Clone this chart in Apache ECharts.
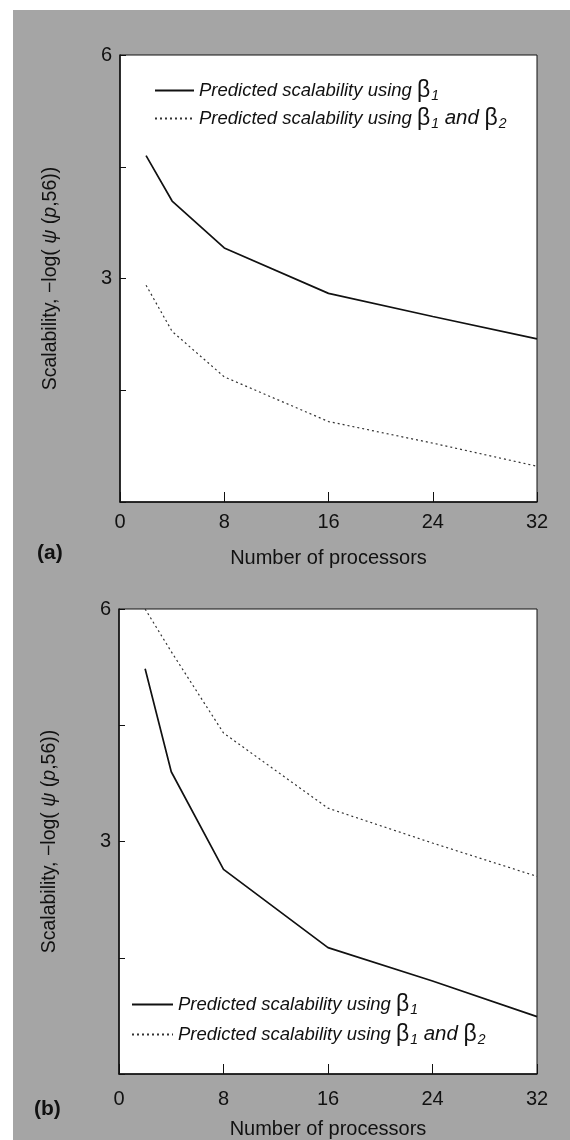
<!DOCTYPE html>
<html>
<head>
<meta charset="utf-8">
<script src="https://cdn.jsdelivr.net/npm/echarts@6/dist/echarts.min.js"></script>
<style>
html,body{margin:0;padding:0;background:#fff;}
#c{width:570px;height:1140px;}
</style>
</head>
<body>
<div id="c"></div>
<script>
// ---- data ----
var processors = [2, 4, 8, 16, 24, 32];
var aBeta1 = [4.65, 4.04, 3.41, 2.80, 2.49, 2.19];
var aBeta12 = [2.91, 2.29, 1.68, 1.08, 0.79, 0.48];
var bBeta1 = [5.23, 3.90, 2.64, 1.63, 1.20, 0.74];
var bBeta12 = [6.00, 5.45, 4.40, 3.43, 2.98, 2.55];
var xTicks = [0, 8, 16, 24, 32];
var yLabelsShown = [3, 6];
var seriesNames = ['Predicted scalability using β1', 'Predicted scalability using β1 and β2'];

function pairs(xs, ys) { return xs.map(function (x, i) { return [x, ys[i]]; }); }

var FONT = '"Liberation Sans Narrow", "Liberation Sans", Arial, sans-serif';
var INK = '#111';

var legendRich = {
  t: { fontFamily: FONT, fontStyle: 'italic', fontSize: 18.5, color: INK, lineHeight: 28 },
  a: { fontFamily: FONT, fontStyle: 'italic', fontSize: 20.5, color: INK, lineHeight: 28 },
  b: { fontFamily: FONT, fontSize: 23, color: INK, lineHeight: 28 },
  s: { fontFamily: FONT, fontStyle: 'italic', fontSize: 14, color: INK, lineHeight: 28, padding: [11, 0, 0, 1] }
};
function legendFmt(name) {
  if (name === seriesNames[0]) return '{t|Predicted scalability using }{b|β}{s|1}';
  return '{t|Predicted scalability using }{b|β}{s|1}{a| and }{b|β}{s|2}';
}

var yName = '{n|Scalability, −log( }{i|ψ}{n| (}{i|p}{n|,56))}';
var yNameRich = {
  n: { fontFamily: FONT, fontSize: 19.5, color: INK },
  i: { fontFamily: FONT, fontSize: 19.5, fontStyle: 'italic', color: INK }
};

function xAxis(idx, labelMargin, nameGap) {
  return {
    gridIndex: idx, type: 'value', min: 0, max: 32, interval: 8,
    axisLine: { show: true, lineStyle: { color: INK, width: 1.5 } },
    axisTick: { show: true, inside: true, length: 10, lineStyle: { color: INK, width: 1 } },
    axisLabel: { fontFamily: FONT, fontSize: 20, color: INK, margin: labelMargin,
      formatter: function (v) { return xTicks.indexOf(v) >= 0 ? String(v) : ''; } },
    splitLine: { show: false },
    name: 'Number of processors', nameLocation: 'middle', nameGap: nameGap,
    nameTextStyle: { fontFamily: FONT, fontSize: 20, color: INK }
  };
}
function yAxis(idx) {
  return {
    gridIndex: idx, type: 'value', min: 0, max: 6, interval: 1.5,
    axisLine: { show: true, lineStyle: { color: INK, width: 1.5 } },
    axisTick: { show: true, inside: true, length: 6, lineStyle: { color: INK, width: 1 } },
    axisLabel: { fontFamily: FONT, fontSize: 20, color: INK, margin: 8,
      formatter: function (v) { return yLabelsShown.indexOf(v) >= 0 ? String(v) : ''; } },
    splitLine: { show: false },
    name: yName, nameLocation: 'middle', nameGap: 59,
    nameTextStyle: { rich: yNameRich }
  };
}
function line(name, xi, data, dotted) {
  return {
    name: name, type: 'line', xAxisIndex: xi, yAxisIndex: xi,
    data: data, symbol: 'none', showSymbol: false, animation: false, z: 5,
    lineStyle: dotted ? { color: '#333', width: 1.2, type: [2, 3] } : { color: INK, width: 1.7, type: 'solid' }
  };
}

var chart = echarts.init(document.getElementById('c'), null, { renderer: 'canvas' });
chart.setOption({
  animation: false,
  backgroundColor: '#ffffff',
  graphic: [
    { type: 'rect', z: -10, silent: true, shape: { x: 13, y: 10, width: 557, height: 1130 }, style: { fill: '#a5a5a5' } },
    { type: 'text', z: 10, left: 37, top: 543, style: { text: '(a)', font: 'bold 21px "Liberation Sans", Arial, sans-serif', fill: INK } },
    { type: 'text', z: 10, left: 34, top: 1099, style: { text: '(b)', font: 'bold 21px "Liberation Sans", Arial, sans-serif', fill: INK } }
  ],
  grid: [
    { left: 120, top: 55, width: 417, height: 447, show: true, backgroundColor: '#ffffff', borderColor: INK, borderWidth: 1 },
    { left: 119, top: 609, width: 418, height: 465, show: true, backgroundColor: '#ffffff', borderColor: INK, borderWidth: 1 }
  ],
  xAxis: [xAxis(0, 10, 46), xAxis(1, 15, 45)],
  yAxis: [yAxis(0), yAxis(1)],
  legend: [
    { orient: 'vertical', left: 154, top: 78, padding: 0, itemWidth: 39, itemHeight: 10, itemGap: 3,
      data: seriesNames, formatter: legendFmt, itemStyle: { opacity: 0 },
      textStyle: { rich: legendRich }, selectedMode: false },
    { orient: 'vertical', left: 131, top: 992, padding: 0, itemWidth: 41, itemHeight: 10, itemGap: 5,
      data: seriesNames, formatter: legendFmt, itemStyle: { opacity: 0 },
      textStyle: { rich: legendRich }, selectedMode: false }
  ],
  series: [
    line(seriesNames[0], 0, pairs(processors, aBeta1), false),
    line(seriesNames[1], 0, pairs(processors, aBeta12), true),
    line(seriesNames[0], 1, pairs(processors, bBeta1), false),
    line(seriesNames[1], 1, pairs(processors, bBeta12), true)
  ]
});
</script>
</body>
</html>
